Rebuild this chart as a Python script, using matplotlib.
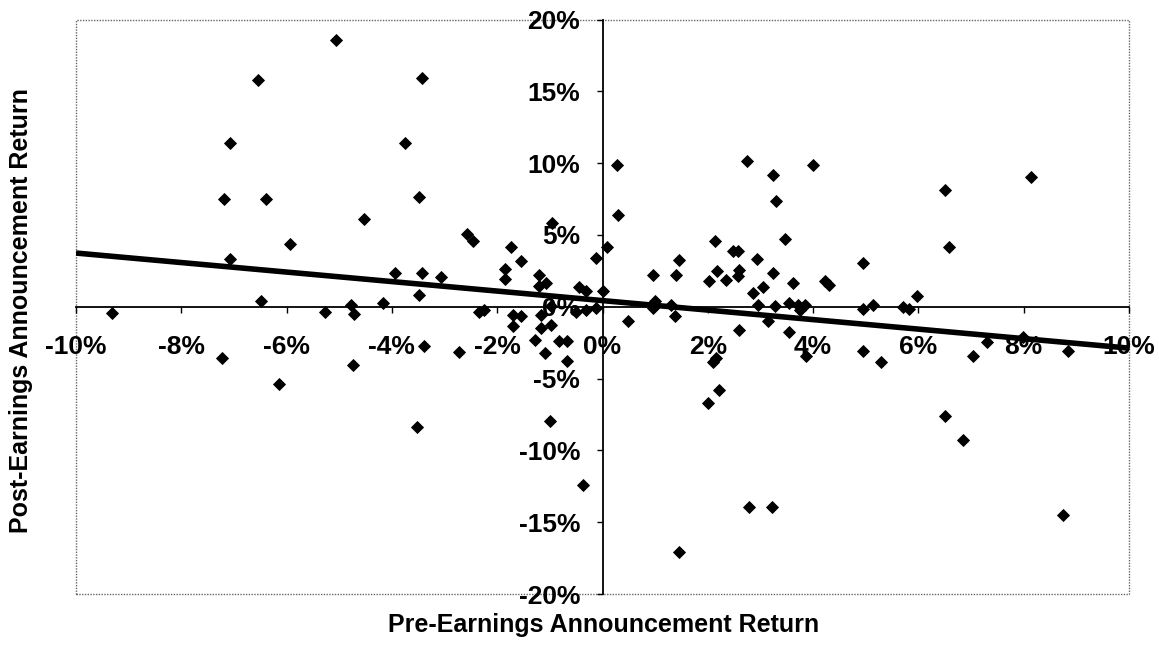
import matplotlib
matplotlib.use('Agg')
import matplotlib.pyplot as plt
from matplotlib.patches import Rectangle
from matplotlib.ticker import FuncFormatter
import numpy as np

plt.rcParams['font.family'] = ['Liberation Sans', 'DejaVu Sans']

# pre-earnings return (%), post-earnings return (%)
pre_ret = [
    -9.31, -5.06, -6.54, -3.42, -7.07, -3.76, -7.19, -6.39, -3.49, -4.53,
    -5.93, -7.07, -2.58, -2.46, -1.74, -1.54, -1.86, -1.86, -3.95, -3.42,
    -3.07, -3.49, -6.48, -4.78, -4.17, -5.28, -4.72, -2.35, -2.25, -1.21,
    -1.07, -1.21, -0.95, -0.12, -0.44, -0.32, -0.97, -0.50, -0.31, -0.12,
    -1.70, -1.54, -1.16, -1.70, -1.16, -0.97, -1.29, -1.09, -0.83, -0.68,
    -0.68, -7.23, -6.15, -4.74, -3.52, -3.39, -2.73, -1.00, -0.37,
    0.28, 0.30, 0.08, 2.74, 3.24, 4.00, 3.30, 3.46, 2.13, 2.47,
    2.58, 2.93, 1.45, 0.96, 1.40, 2.17, 2.35, 2.02, 2.60, 2.57,
    3.23, 3.61, 4.22, 4.31, 3.04, 2.85, 4.95, 6.50, 6.58, 8.13,
    5.97, 5.70, 5.83, 4.94, 5.13, 3.55, 3.71, 3.84, 2.95, 3.27,
    3.14, 3.75, 0.99, 0.96, 1.30, 1.37, 0.00, 0.48, 2.60, 3.55,
    3.87, 4.95, 5.29, 7.03, 7.31, 8.85, 2.10, 2.15, 2.22, 2.01,
    6.51, 6.85, 2.79, 3.21, 8.75, 1.46, 7.98,
]
post_ret = [
    -0.44, 18.60, 15.80, 15.90, 11.40, 11.40, 7.50, 7.50, 7.66, 6.10,
    4.40, 3.35, 5.10, 4.60, 4.15, 3.20, 2.65, 1.95, 2.35, 2.35,
    2.07, 0.79, 0.37, 0.14, 0.26, -0.33, -0.49, -0.35, -0.20, 2.23,
    1.65, 1.48, 5.80, 3.39, 1.35, 1.11, 0.02, -0.33, -0.20, -0.10,
    -0.56, -0.67, -0.56, -1.37, -1.45, -1.25, -2.30, -3.23, -2.40, -2.35,
    -3.80, -3.58, -5.41, -4.02, -8.36, -2.76, -3.16, -7.92, -12.40,
    9.90, 6.41, 4.16, 10.17, 9.20, 9.90, 7.39, 4.74, 4.60, 3.90,
    3.90, 3.34, 3.28, 2.23, 2.18, 2.51, 1.88, 1.77, 2.58, 2.11,
    2.35, 1.65, 1.77, 1.53, 1.35, 0.95, 3.04, 8.10, 4.16, 9.06,
    0.77, -0.02, -0.16, -0.16, 0.14, 0.26, 0.14, 0.14, 0.14, 0.02,
    -1.02, -0.20, 0.37, -0.09, 0.14, -0.67, 1.11, -1.00, -1.65, -1.75,
    -3.46, -3.11, -3.83, -3.41, -2.46, -3.11, -3.85, -3.55, -5.78, -6.67,
    -7.62, -9.31, -13.96, -13.96, -14.50, -17.05, -2.10,
]

# linear trendline (percent units)
trend_intercept = 0.43
trend_slope = -0.331

x_ticks = np.arange(-10, 11, 2)
y_ticks = np.arange(-20, 21, 5)

fig = plt.figure(figsize=(11.59, 6.55), dpi=100)
ax = fig.add_axes([0.0656, 0.0931, 0.9085, 0.8771])

ax.plot(pre_ret, post_ret, linestyle='none', marker='D', ms=6.2,
        mfc='black', mec='black', mew=0.6, zorder=3)

x_line = np.array([-10, 10])
ax.plot(x_line, trend_intercept + trend_slope * x_line, color='black',
        lw=4, solid_capstyle='butt', zorder=4)

ax.set_xlim(-10, 10)
ax.set_ylim(-20, 20)
ax.set_xticks(x_ticks)
ax.set_yticks(y_ticks)
pct = FuncFormatter(lambda v, p: '%d%%' % round(v))
ax.xaxis.set_major_formatter(pct)
ax.yaxis.set_major_formatter(pct)

ax.spines['left'].set_position(('data', 0))
ax.spines['bottom'].set_position(('data', 0))
ax.spines['left'].set_linewidth(1.3)
ax.spines['bottom'].set_linewidth(1.3)
ax.spines['top'].set_visible(False)
ax.spines['right'].set_visible(False)

# dotted plot-area frame
ax.add_patch(Rectangle((0, 0), 1, 1, transform=ax.transAxes, fill=False,
                       edgecolor='0.4', lw=1.0, linestyle=(0, (1, 1)),
                       clip_on=False, zorder=1))

ax.tick_params(axis='x', direction='out', length=4, width=1, pad=16,
               labelsize=19)
ax.tick_params(axis='y', direction='out', length=4, width=1, pad=12,
               labelsize=19)
for lab in ax.get_xticklabels() + ax.get_yticklabels():
    lab.set_fontweight('bold')

fig.text(604 / 1159, 1 - 625 / 655, 'Pre-Earnings Announcement Return',
         ha='center', va='center', fontsize=18, fontweight='bold')
fig.text(21 / 1159, 1 - 311 / 655, 'Post-Earnings Announcement Return',
         ha='center', va='center', rotation=90, fontsize=18,
         fontweight='bold')

fig.savefig('out.png', dpi=100)
